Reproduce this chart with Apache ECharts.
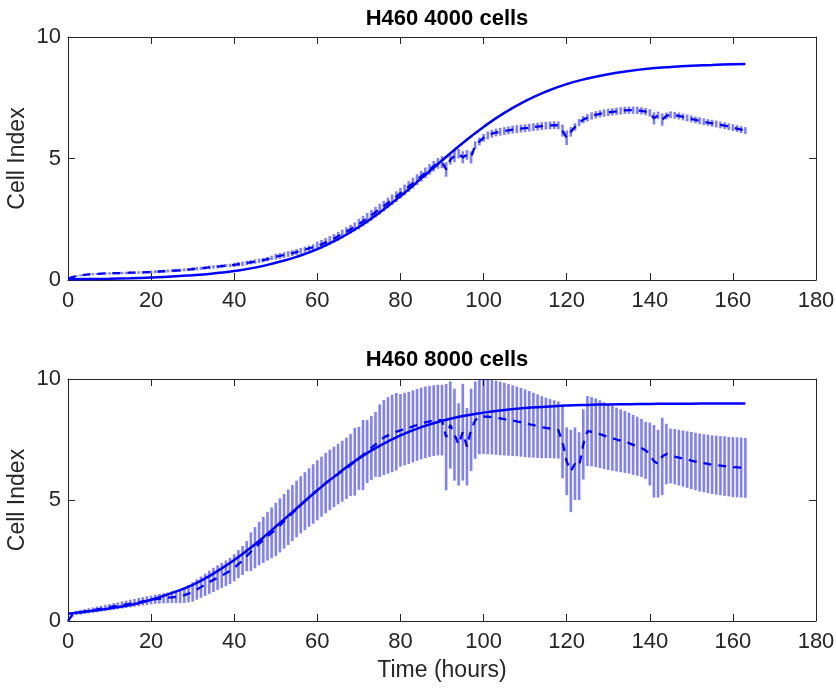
<!DOCTYPE html>
<html><head><meta charset="utf-8">
<script src="https://cdn.jsdelivr.net/npm/echarts@6/dist/echarts.min.js"></script>
<style>html,body{margin:0;padding:0;background:#fff}#c{width:836px;height:688px}</style>
</head><body><div id="c"></div>
<script>
const titles = ['H460 4000 cells', 'H460 8000 cells'];
const yName = 'Cell Index';
const xName = 'Time (hours)';
const timeStart = 0, timeCount = 164; // hourly samples 0..163 h

const mean4000 = [
0.05,0.12,0.16,0.19,0.21,0.23,0.24,0.25,0.26,0.27,
0.27,0.28,0.28,0.29,0.29,0.30,0.30,0.31,0.31,0.32,
0.33,0.34,0.35,0.36,0.37,0.38,0.39,0.40,0.42,0.43,
0.45,0.47,0.48,0.50,0.52,0.54,0.55,0.57,0.59,0.60,
0.62,0.65,0.67,0.70,0.73,0.76,0.79,0.82,0.86,0.91,
0.96,0.99,1.03,1.07,1.11,1.15,1.20,1.25,1.30,1.35,
1.40,1.47,1.55,1.63,1.71,1.80,1.89,1.99,2.09,2.19,
2.30,2.42,2.54,2.66,2.79,2.92,3.04,3.17,3.30,3.43,
3.57,3.71,3.85,3.99,4.13,4.27,4.41,4.55,4.68,4.80,
4.85,4.55,4.95,5.10,5.20,5.05,5.15,5.05,5.55,5.70,
5.85,5.95,6.02,6.07,6.10,6.13,6.16,6.19,6.21,6.23,
6.25,6.27,6.29,6.31,6.33,6.35,6.36,6.37,6.36,6.15,
5.85,6.10,6.30,6.48,6.60,6.68,6.75,6.80,6.84,6.87,
6.90,6.92,6.94,6.96,6.98,6.99,6.99,6.98,6.96,6.93,
6.88,6.65,6.78,6.60,6.75,6.80,6.78,6.75,6.71,6.67,
6.63,6.59,6.55,6.51,6.48,6.45,6.42,6.38,6.35,6.31,
6.27,6.23,6.19,6.15];

const err4000 = [
0.02,0.04,0.04,0.04,0.04,0.04,0.04,0.04,0.04,0.04,
0.05,0.05,0.05,0.05,0.05,0.05,0.05,0.05,0.05,0.05,
0.06,0.06,0.06,0.06,0.06,0.06,0.06,0.06,0.06,0.06,
0.07,0.07,0.07,0.07,0.07,0.07,0.07,0.07,0.07,0.07,
0.09,0.09,0.09,0.09,0.09,0.09,0.09,0.09,0.09,0.09,
0.12,0.12,0.12,0.12,0.12,0.12,0.12,0.12,0.12,0.12,
0.18,0.18,0.18,0.18,0.18,0.18,0.18,0.18,0.18,0.18,
0.22,0.22,0.22,0.22,0.22,0.22,0.22,0.22,0.22,0.22,
0.22,0.22,0.22,0.22,0.22,0.22,0.22,0.22,0.22,0.22,
0.25,0.30,0.20,0.25,0.20,0.25,0.20,0.25,0.16,0.16,
0.16,0.16,0.16,0.16,0.16,0.16,0.16,0.16,0.16,0.16,
0.16,0.16,0.16,0.16,0.16,0.16,0.16,0.16,0.16,0.25,
0.30,0.20,0.15,0.15,0.15,0.15,0.15,0.15,0.15,0.15,
0.15,0.15,0.15,0.15,0.15,0.15,0.15,0.15,0.15,0.15,
0.15,0.25,0.15,0.25,0.14,0.14,0.14,0.14,0.14,0.14,
0.14,0.14,0.14,0.14,0.14,0.14,0.14,0.14,0.14,0.14,
0.14,0.14,0.14,0.14];

const mean8000 = [
0.00,0.25,0.33,0.36,0.39,0.42,0.45,0.48,0.51,0.54,
0.57,0.60,0.63,0.66,0.69,0.72,0.75,0.78,0.81,0.84,
0.87,0.90,0.92,0.94,0.96,0.98,1.00,1.03,1.07,1.13,
1.20,1.30,1.40,1.50,1.60,1.70,1.79,1.88,1.97,2.07,
2.20,2.35,2.50,2.68,2.86,3.03,3.20,3.35,3.50,3.64,
3.78,3.95,4.12,4.29,4.46,4.63,4.80,4.95,5.10,5.25,
5.40,5.55,5.70,5.83,5.95,6.07,6.19,6.31,6.45,6.58,
6.72,6.86,7.00,7.15,7.30,7.45,7.58,7.67,7.75,7.82,
7.88,7.93,7.98,8.04,8.10,8.16,8.21,8.25,8.28,8.30,
8.30,7.60,8.10,7.70,7.30,7.80,7.20,7.90,8.30,8.44,
8.45,8.44,8.42,8.40,8.37,8.34,8.31,8.28,8.25,8.21,
8.17,8.13,8.09,8.05,8.01,7.98,7.95,7.92,7.89,7.40,
6.60,6.20,6.50,6.40,7.30,7.85,7.82,7.78,7.72,7.66,
7.60,7.55,7.50,7.45,7.40,7.35,7.28,7.22,7.15,7.05,
6.90,6.60,6.50,6.80,6.90,6.82,6.79,6.75,6.71,6.67,
6.63,6.59,6.55,6.52,6.49,6.46,6.44,6.42,6.40,6.38,
6.36,6.35,6.34,6.33];

const err8000 = [
0.05,0.08,0.09,0.10,0.10,0.11,0.11,0.12,0.12,0.13,
0.13,0.14,0.14,0.15,0.15,0.16,0.16,0.17,0.17,0.18,
0.18,0.19,0.20,0.21,0.22,0.24,0.26,0.29,0.32,0.36,
0.40,0.42,0.44,0.46,0.48,0.50,0.51,0.52,0.53,0.54,
0.56,0.58,0.60,0.62,0.80,0.85,0.90,0.95,1.00,1.05,
1.10,1.12,1.13,1.15,1.16,1.17,1.18,1.20,1.21,1.23,
1.24,1.24,1.25,1.25,1.25,1.25,1.26,1.27,1.28,1.40,
1.30,1.45,1.30,1.32,1.34,1.50,1.55,1.58,1.60,1.60,
1.50,1.50,1.49,1.49,1.48,1.48,1.48,1.47,1.46,1.46,
1.46,2.20,1.80,1.90,1.70,2.00,1.60,1.70,1.60,1.55,
1.55,1.55,1.54,1.53,1.52,1.50,1.48,1.46,1.44,1.42,
1.40,1.37,1.34,1.31,1.28,1.25,1.22,1.20,1.18,1.50,
1.40,1.70,1.50,1.40,1.45,1.45,1.43,1.42,1.40,1.38,
1.36,1.34,1.32,1.30,1.28,1.26,1.24,1.22,1.20,1.18,
1.30,1.50,1.40,1.60,1.25,1.13,1.14,1.15,1.16,1.17,
1.18,1.19,1.20,1.20,1.21,1.21,1.22,1.22,1.23,1.23,
1.24,1.24,1.24,1.24];

const fitTime = [0,5,10,15,20,25,30,35,40,45,50,55,60,65,70,75,80,85,90,95,100,105,110,115,120,125,130,135,140,145,150,155,160,163];
const fit4000 = [0.03,0.04,0.05,0.07,0.10,0.14,0.20,0.27,0.37,0.51,0.71,0.95,1.27,1.68,2.18,2.78,3.45,4.18,4.92,5.64,6.30,6.88,7.36,7.75,8.06,8.29,8.47,8.60,8.70,8.77,8.82,8.85,8.88,8.89];
const fit8000 = [0.30,0.40,0.52,0.66,0.88,1.16,1.49,1.96,2.52,3.17,3.90,4.65,5.40,6.09,6.72,7.24,7.67,8.01,8.27,8.47,8.61,8.72,8.80,8.85,8.90,8.93,8.95,8.96,8.97,8.98,8.98,8.99,8.99,8.99];

const time = Array.from({length: timeCount}, (_, i) => timeStart + i);

const FONT = "'Liberation Sans', Arial, Helvetica, sans-serif";
const AX = '#262626';
const BLUE = '#0000ff';

const grids = [
  {left: 68, right: 20, top: 37, height: 243, containLabel: false, outerBoundsMode: 'none'},
  {left: 68, right: 20, top: 379, height: 242, containLabel: false, outerBoundsMode: 'none'}
];

function xAxes(gi) {
  const base = {
    gridIndex: gi, type: 'value', min: 0, max: 180, interval: 20,
    axisLine: {show: true, onZero: false, lineStyle: {color: AX, width: 1}},
    axisTick: {show: true, inside: true, length: 7, lineStyle: {color: AX}},
    splitLine: {show: false}
  };
  const bottom = Object.assign({}, base, {
    position: 'bottom',
    axisLabel: {show: true, color: AX, fontFamily: FONT, fontSize: 22, margin: 10,
      showMinLabel: true, showMaxLabel: true, hideOverlap: false}
  });
  if (gi === 1) {
    Object.assign(bottom, {name: xName, nameLocation: 'middle', nameGap: 38,
      nameMoveOverlap: false,
      nameTextStyle: {color: AX, fontFamily: FONT, fontSize: 23}});
  }
  const top = Object.assign({}, base, {position: 'top', axisLabel: {show: false}});
  return [bottom, top];
}
function yAxes(gi) {
  const base = {
    gridIndex: gi, type: 'value', min: 0, max: 10, interval: 5,
    axisLine: {show: true, onZero: false, lineStyle: {color: AX, width: 1}},
    axisTick: {show: true, inside: true, length: 7, lineStyle: {color: AX}},
    splitLine: {show: false}
  };
  const left = Object.assign({}, base, {
    position: 'left',
    axisLabel: {show: true, color: AX, fontFamily: FONT, fontSize: 22, margin: 7},
    name: yName, nameLocation: 'middle', nameGap: 39, nameRotate: 90,
    nameMoveOverlap: false,
    nameTextStyle: {color: AX, fontFamily: FONT, fontSize: 23}
  });
  const right = Object.assign({}, base, {position: 'right', axisLabel: {show: false}});
  return [left, right];
}

function errSeries(gi, mean, err) {
  return {
    type: 'custom', xAxisIndex: gi * 2, yAxisIndex: gi * 2, clip: true, z: 1,
    data: time.map((t, i) => [t, mean[i] - err[i], mean[i] + err[i]]),
    encode: {x: 0, y: [1, 2]},
    renderItem: function (params, api) {
      const p1 = api.coord([api.value(0), api.value(1)]);
      const p2 = api.coord([api.value(0), api.value(2)]);
      return {type: 'line', shape: {x1: p1[0], y1: p1[1], x2: p2[0], y2: p2[1]},
        style: {stroke: 'rgba(0,0,255,0.5)', lineWidth: 2.6}};
    },
    silent: true
  };
}
function meanSeries(gi, mean) {
  return {
    type: 'line', xAxisIndex: gi * 2, yAxisIndex: gi * 2, z: 3,
    data: time.map((t, i) => [t, mean[i]]),
    showSymbol: false, symbol: 'none',
    lineStyle: {color: BLUE, width: 2.3, type: [8, 7]},
    silent: true, animation: false
  };
}
function fitSeries(gi, fit) {
  return {
    type: 'line', xAxisIndex: gi * 2, yAxisIndex: gi * 2, z: 4,
    data: fitTime.map((t, i) => [t, fit[i]]),
    smooth: true, showSymbol: false, symbol: 'none',
    lineStyle: {color: BLUE, width: 2.5},
    silent: true, animation: false
  };
}

const chart = echarts.init(document.getElementById('c'), null, {renderer: 'canvas'});
chart.setOption({
  animation: false,
  backgroundColor: '#fff',
  title: [
    {text: titles[0], left: 442, top: 3, textAlign: 'center',
     textStyle: {fontFamily: FONT, fontSize: 22, fontWeight: 'bold', color: '#000'}},
    {text: titles[1], left: 442, top: 344, textAlign: 'center',
     textStyle: {fontFamily: FONT, fontSize: 22, fontWeight: 'bold', color: '#000'}}
  ],
  grid: grids,
  xAxis: [...xAxes(0), ...xAxes(1)],
  yAxis: [...yAxes(0), ...yAxes(1)],
  series: [
    errSeries(0, mean4000, err4000),
    meanSeries(0, mean4000),
    fitSeries(0, fit4000),
    errSeries(1, mean8000, err8000),
    meanSeries(1, mean8000),
    fitSeries(1, fit8000)
  ]
});
</script>
</body></html>
